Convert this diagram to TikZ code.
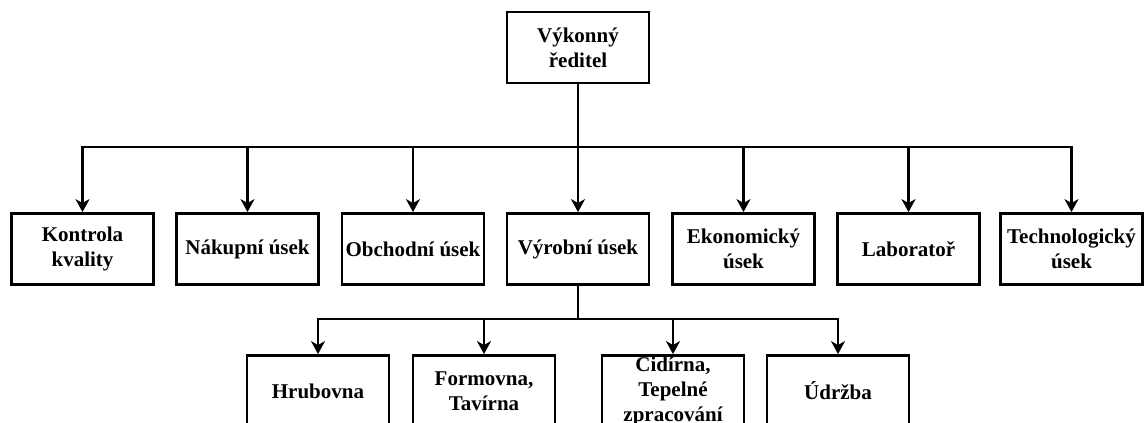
\documentclass[tikz,border=0pt]{standalone}
\usepackage{fontspec}
\setmainfont{Liberation Serif}
\usetikzlibrary{arrows.meta}
\begin{document}
\begin{tikzpicture}[x=1pt,y=-1pt,
  orgbox/.style={draw=black, line width=2.8pt, fill=white, minimum width=142pt, minimum height=71pt,
    inner sep=0pt, align=center, font=\fontsize{21}{25}\selectfont\bfseries},
  conn/.style={draw=black, line width=2.8pt, -{Stealth[length=13pt,width=14pt,inset=4pt]}}]
\useasboundingbox (0,0) rectangle (1144,423);
\clip (0,0) rectangle (1144,423);
\fill[white] (0,0) rectangle (1144,423);
% top
\node[orgbox] (top) at (578,47.5) {Výkonný\\ředitel};
% row 2
\node[orgbox] (kk) at (82.5,249) {Kontrola\\kvality};
\node[orgbox] (nu) at (247.5,249) {Nákupní úsek};
\node[orgbox] (ou) at (413,249) {Obchodní úsek};
\node[orgbox] (vu) at (578,249) {Výrobní úsek};
\node[orgbox] (eu) at (743.5,249) {Ekonomický\\úsek};
\node[orgbox] (lab) at (908.5,249) {Laboratoř};
\node[orgbox] (tu) at (1071.5,249) {Technologický\\úsek};
% row 3
\node[orgbox] (hr) at (318,391) {Hrubovna};
\node[orgbox] (fo) at (484,391) {Formovna,\\Tavírna};
\node[orgbox] (ci) at (673,391) {Cidírna,\\Tepelné\\zpracování};
\node[orgbox] (ud) at (838,391) {Údržba};
% buses
\coordinate (bus) at (0,147);
\coordinate (sbus) at (0,319);
\foreach \n in {kk,nu,ou,vu,eu,lab,tu}{
  \draw[conn] (top.south) -- (top.south |- bus) -| (\n.north);
}
\foreach \n in {hr,fo,ci,ud}{
  \draw[conn] (vu.south) -- (vu.south |- sbus) -| (\n.north);
}
\end{tikzpicture}
\end{document}
